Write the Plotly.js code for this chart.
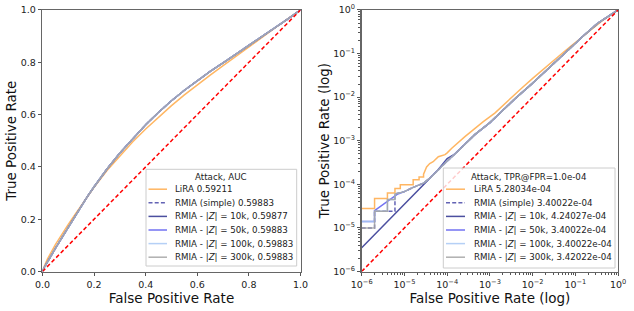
<!DOCTYPE html>
<html>
<head>
<meta charset="utf-8">
<script src="https://cdn.plot.ly/plotly-3.0.1.min.js"></script>
<style>html,body{margin:0;padding:0;background:#fff;}#chart{width:634px;height:311px;}</style>
</head>
<body>
<div id="chart"></div>
<script>
// ---- data ----
const seriesNames = ["LiRA", "RMIA (simple)", "RMIA - |<i>Z</i>| = 10k", "RMIA - |<i>Z</i>| = 50k", "RMIA - |<i>Z</i>| = 100k", "RMIA - |<i>Z</i>| = 300k"];
const aucValues = ["0.59211", "0.59883", "0.59877", "0.59883", "0.59883", "0.59883"];
const tprAtLowFpr = ["5.28034e-04", "3.40022e-04", "4.24027e-04", "3.40022e-04", "3.40022e-04", "3.42022e-04"];
const legendTitles = ["Attack, AUC", "Attack, TPR@FPR=1.0e-04"];

const lira_fpr = [1e-6, 2e-6, 2e-6, 4e-6, 4e-6, 6e-6, 6e-6, 8e-6, 8e-6, 1.6e-5, 1.6e-5, 2.2e-5, 2.2e-5, 2.8e-5, 2.8e-5, 3.3e-5, 3.9e-5, 4.7e-5, 6.2e-5, 8.9e-5, 1e-4, 1.28e-4, 2.6e-4, 4.5e-4, 7e-4, 1.3e-3, 2.5e-3, 5.5e-3, 0.01, 0.02, 0.05, 0.075, 0.1, 0.125, 0.15, 0.175, 0.2, 0.25, 0.3, 0.35, 0.4, 0.45, 0.5, 0.55, 0.6, 0.65, 0.7, 0.75, 0.8, 0.85, 0.9, 0.95, 1];
const lira_tpr = [2.8e-5, 2.8e-5, 4.7e-5, 4.7e-5, 6.3e-5, 6.3e-5, 8e-5, 8e-5, 9.8e-5, 9.8e-5, 1.28e-4, 1.28e-4, 1.48e-4, 1.48e-4, 1.7e-4, 2.5e-4, 3.0e-4, 3.3e-4, 4.3e-4, 4.8e-4, 5.28e-4, 6.7e-4, 1.24e-3, 1.93e-3, 2.73e-3, 4.3e-3, 8.0e-3, 1.6e-2, 0.027, 0.049, 0.103, 0.143, 0.18, 0.216, 0.252, 0.288, 0.322, 0.386, 0.443, 0.496, 0.545, 0.591, 0.634, 0.675, 0.714, 0.751, 0.787, 0.822, 0.857, 0.893, 0.93, 0.966, 1];

// shared high-FPR part of all RMIA curves
const rmiaTail_fpr = [1.5e-4, 2.5e-4, 4.5e-4, 1e-3, 2e-3, 4e-3, 0.01, 0.02, 0.05, 0.075, 0.1, 0.125, 0.15, 0.175, 0.2, 0.25, 0.3, 0.35, 0.4, 0.45, 0.5, 0.55, 0.6, 0.65, 0.7, 0.75, 0.8, 0.85, 0.9, 0.95, 1];
const rmiaTail_tpr = [4.9e-4, 8e-4, 1.4e-3, 2.6e-3, 5e-3, 9.5e-3, 0.021, 0.039, 0.088, 0.129, 0.17, 0.21, 0.25, 0.288, 0.324, 0.392, 0.453, 0.509, 0.561, 0.609, 0.653, 0.693, 0.73, 0.765, 0.798, 0.831, 0.864, 0.897, 0.931, 0.965, 1];

const simple_fpr = [1e-6, 2e-6, 2e-6, 6e-6, 6e-6, 1e-5, 1.6e-5, 2.8e-5, 4e-5, 6e-5, 1e-4];
const simple_tpr = [1e-5, 1e-5, 2.4e-5, 2.4e-5, 6e-5, 6.8e-5, 8.5e-5, 1.06e-4, 1.4e-4, 2.1e-4, 3.4e-4];
const z10k_fpr = [1e-6, 6e-5, 1e-4];
const z10k_tpr = [3.5e-6, 2.1e-4, 3.9e-4];
const z50k_fpr = [1e-6, 2e-6, 2e-6, 4e-6, 7e-6, 1e-5, 1.6e-5, 2.8e-5, 4e-5, 6e-5, 1e-4];
const z50k_tpr = [1.4e-5, 1.4e-5, 2.5e-5, 4.0e-5, 6.0e-5, 6.8e-5, 8.5e-5, 1.06e-4, 1.4e-4, 2.1e-4, 3.4e-4];
const z100k_fpr = [1e-6, 2e-6, 2e-6, 4e-6, 4e-6, 6e-6, 6e-6, 1e-5, 1.6e-5, 2.8e-5, 4e-5, 6e-5, 1e-4];
const z100k_tpr = [1.4e-5, 1.4e-5, 2.4e-5, 2.4e-5, 4.5e-5, 4.5e-5, 6e-5, 6.8e-5, 8.5e-5, 1.06e-4, 1.4e-4, 2.1e-4, 3.4e-4];
const z300k_fpr = [1e-6, 2e-6, 2e-6, 4e-6, 4e-6, 6e-6, 6e-6, 1e-5, 1.6e-5, 2.8e-5, 4e-5, 6e-5, 1e-4];
const z300k_tpr = [1e-5, 1e-5, 2.4e-5, 2.4e-5, 4.5e-5, 4.5e-5, 6e-5, 6.8e-5, 8.5e-5, 1.06e-4, 1.4e-4, 2.1e-4, 3.42e-4];

const diag_fpr = [1e-6, 1];
const diag_tpr = [1e-6, 1];

const linTickVals = [0, 0.2, 0.4, 0.6, 0.8, 1.0];
const logTickVals = [1e-6, 1e-5, 1e-4, 1e-3, 1e-2, 1e-1, 1];
const logTickText = ["10<sup>\u22126</sup>", "10<sup>\u22125</sup>", "10<sup>\u22124</sup>", "10<sup>\u22123</sup>", "10<sup>\u22122</sup>", "10<sup>\u22121</sup>", "10<sup>0</sup>"];

// ---- styles ----
const colors = ["#ffa947", "#4848a8", "#2d318f", "#5a5af0", "#a9c8f5", "#a2a2a2"];
const dashes = ["solid", "4px,2.2px", "solid", "solid", "solid", "solid"];

const curves = [
  [lira_fpr, lira_tpr],
  [simple_fpr.concat(rmiaTail_fpr), simple_tpr.concat(rmiaTail_tpr)],
  [z10k_fpr.concat(rmiaTail_fpr), z10k_tpr.concat(rmiaTail_tpr)],
  [z50k_fpr.concat(rmiaTail_fpr), z50k_tpr.concat(rmiaTail_tpr)],
  [z100k_fpr.concat(rmiaTail_fpr), z100k_tpr.concat(rmiaTail_tpr)],
  [z300k_fpr.concat(rmiaTail_fpr), z300k_tpr.concat(rmiaTail_tpr)]
];

const traces = [];
["x", "x2"].forEach((ax, k) => {
  curves.forEach((c, i) => {
    traces.push({x: c[0], y: c[1], type: "scatter", mode: "lines", xaxis: ax, yaxis: k ? "y2" : "y",
      showlegend: false, opacity: 0.85, hoverinfo: "skip",
      line: {color: colors[i], width: 1.5, dash: dashes[i]}});
  });
  traces.push({x: diag_fpr, y: diag_tpr, type: "scatter", mode: "lines", xaxis: ax, yaxis: k ? "y2" : "y",
    showlegend: false, hoverinfo: "skip", line: {color: "#ff0000", width: 1.5, dash: "4px,2.5px"}});
});

const minorLog = [];
for (let e = -6; e < 0; e++) for (let m = 2; m <= 9; m++) minorLog.push(m * Math.pow(10, e));

// ---- hand-built legends (matplotlib style boxes) ----
const W = 634, H = 311;
const px = v => v / W, py = v => 1 - v / H;
const legendBoxes = [
  {x0: 146, x1: 296.7, y0: 169.3, y1: 266, lineX0: 148.5, lineX1: 167, textX: 173},
  {x0: 443.3, x1: 615, y0: 168, y1: 268, lineX0: 446, lineX1: 465, textX: 472}
];
const rowY0 = 189.2, rowStep = 13.6, titleY = 176.5;
const legendLabels = [
  seriesNames.map((n, i) => n + (i < 2 ? " " : ", ") + aucValues[i]),
  seriesNames.map((n, i) => n + (i < 2 ? " " : ", ") + tprAtLowFpr[i])
];
const legFont = {family: "DejaVu Sans", size: 8.7, color: "#222"};
const shapes = [], annotations = [];
legendBoxes.forEach((b, k) => {
  shapes.push({type: "rect", xref: "paper", yref: "paper", layer: "above",
    x0: px(b.x0), x1: px(b.x1), y0: py(b.y1), y1: py(b.y0),
    fillcolor: "rgba(255,255,255,0.8)", line: {color: "#cccccc", width: 1}});
  annotations.push({xref: "paper", yref: "paper", x: px((b.x0 + b.x1) / 2), y: py(titleY),
    xanchor: "center", yanchor: "middle", showarrow: false, text: legendTitles[k], font: legFont});
  legendLabels[k].forEach((t, i) => {
    const yy = rowY0 + rowStep * i;
    shapes.push({type: "line", xref: "paper", yref: "paper", layer: "above",
      x0: px(b.lineX0), x1: px(b.lineX1), y0: py(yy), y1: py(yy),
      line: {color: colors[i], width: 1.5, dash: dashes[i]}, opacity: 0.85});
    annotations.push({xref: "paper", yref: "paper", x: px(b.textX), y: py(yy),
      xanchor: "left", yanchor: "middle", showarrow: false, text: t, font: legFont});
  });
});

const axisCommon = {showgrid: false, zeroline: false, showline: true, linecolor: "#666", linewidth: 1.2,
  mirror: true, ticks: "outside", ticklen: 3.5, tickwidth: 1, tickcolor: "#555",
  tickfont: {family: "DejaVu Sans", size: 9.5, color: "#222"}, automargin: false};
const titleFont = {family: "DejaVu Sans", size: 13.5, color: "#111"};

const layout = {
  width: W, height: H, margin: {l: 0, r: 0, t: 0, b: 0}, showlegend: false,
  paper_bgcolor: "#fff", plot_bgcolor: "#fff", font: {family: "DejaVu Sans", size: 9.5, color: "#222"},
  xaxis: Object.assign({}, axisCommon, {domain: [0.067, 0.474], range: [0, 1], anchor: "y",
    tickvals: linTickVals, tickformat: ".1f", title: {text: "False Positive Rate", font: titleFont, standoff: 4}}),
  yaxis: Object.assign({}, axisCommon, {domain: [0.127, 0.968], range: [0, 1], anchor: "x",
    tickvals: linTickVals, tickformat: ".1f", title: {text: "True Positive Rate", font: titleFont, standoff: 1}}),
  xaxis2: Object.assign({}, axisCommon, {domain: [0.5705, 0.975], type: "log", range: [-6, 0], anchor: "y2",
    tickmode: "array", tickvals: logTickVals, ticktext: logTickText,
    minor: {tickmode: "array", tickvals: minorLog, ticks: "outside", ticklen: 2, tickcolor: "#555"},
    title: {text: "False Positive Rate (log)", font: titleFont, standoff: 4}}),
  yaxis2: Object.assign({}, axisCommon, {domain: [0.127, 0.968], type: "log", range: [-6, 0], anchor: "x2",
    tickmode: "array", tickvals: logTickVals, ticktext: logTickText,
    minor: {tickmode: "array", tickvals: minorLog, ticks: "outside", ticklen: 2, tickcolor: "#555"},
    title: {text: "True Positive Rate (log)", font: titleFont, standoff: 0}}),
  shapes: shapes,
  annotations: annotations
};

Plotly.newPlot("chart", traces, layout, {displayModeBar: false, staticPlot: true});
</script>
</body>
</html>
